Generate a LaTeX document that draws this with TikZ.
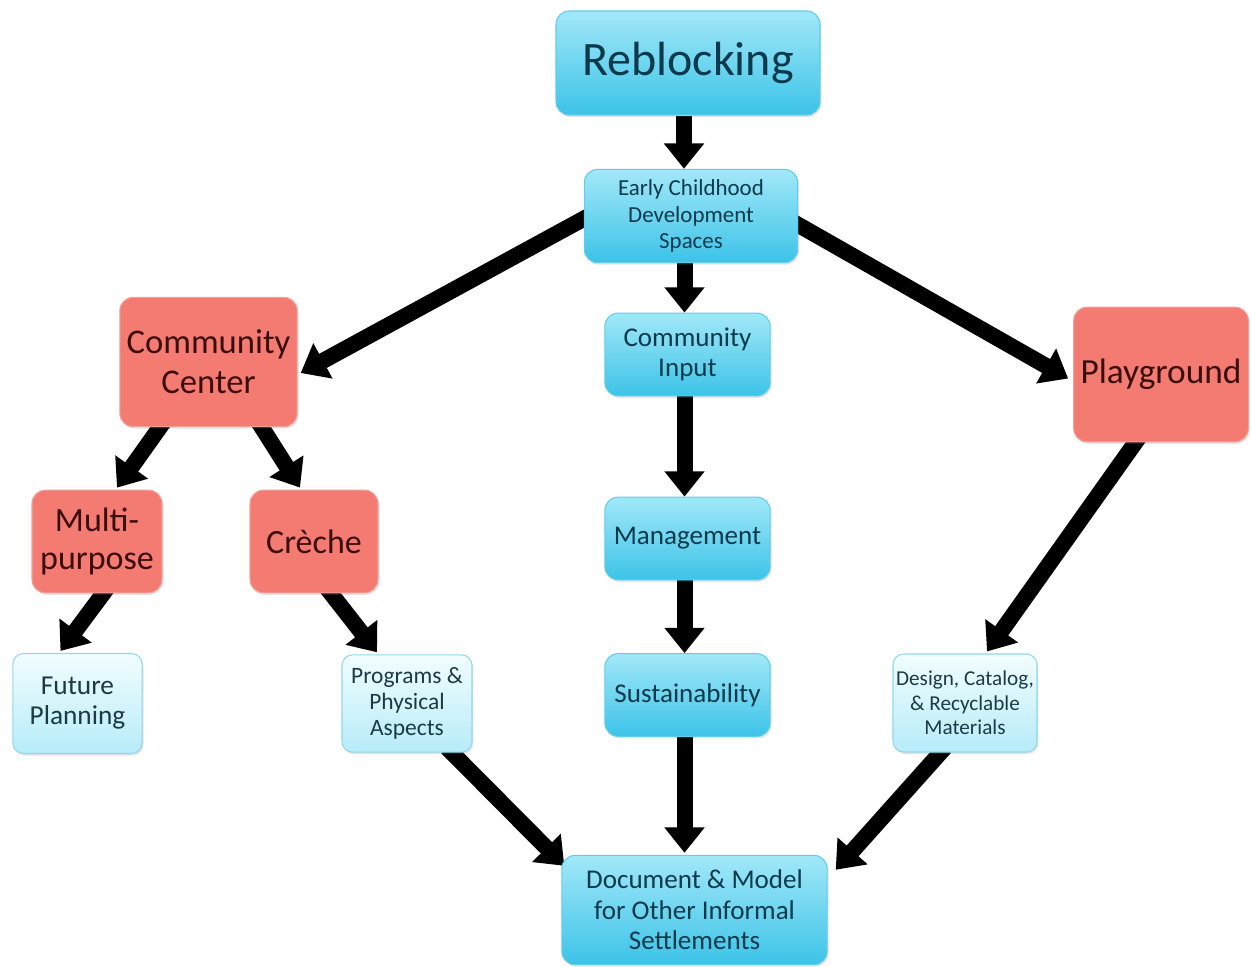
\documentclass[tikz,border=0pt]{standalone}
\usepackage{fontspec}
\setmainfont{Carlito}
\usetikzlibrary{arrows.meta,calc,backgrounds,shadows}
\definecolor{bluetop}{HTML}{A2E8F8}
\definecolor{bluebot}{HTML}{3CC3E8}
\definecolor{blueline}{HTML}{62CDE8}
\definecolor{bluetext}{HTML}{0B3A4C}
\definecolor{lighttop}{HTML}{F2FDFF}
\definecolor{lightbot}{HTML}{B6ECF9}
\definecolor{lightline}{HTML}{93D7EA}
\definecolor{lighttext}{HTML}{1C3A44}
\definecolor{redfill}{HTML}{F47B72}
\definecolor{redline}{HTML}{F3A09A}
\definecolor{redtext}{HTML}{3A0E0E}
\tikzset{
  box/.style={rectangle, rounded corners=10pt, align=center, inner sep=0pt,
    drop shadow={opacity=0.22, shadow xshift=1pt, shadow yshift=-1.5pt}},
  bluebox/.style={box, draw=blueline, line width=0.8pt, top color=bluetop, bottom color=bluebot, text=bluetext},
  lightbox/.style={box, rounded corners=8pt, draw=lightline, line width=0.8pt, top color=lighttop, bottom color=lightbot, text=lighttext},
  redbox/.style={box, draw=redline, line width=0.8pt, fill=redfill, text=redtext},
  bigarrow/.style={line width=12pt, -{Triangle[width=29pt,length=19pt]}}
}
\begin{document}
\begin{tikzpicture}[x=0.75pt,y=-0.75pt]
\useasboundingbox (0,0) rectangle (1251,966);
% blue main column
\node[bluebox, minimum width=198pt, minimum height=78pt, font=\fontsize{36}{42}\selectfont] (reb) at (688,63) {Reblocking};
\node[bluebox, minimum width=160pt, minimum height=70pt, font=\fontsize{17.2}{20}\selectfont] (ecd) at (691,216) {Early Childhood\\Development\\Spaces};
\node[bluebox, minimum width=124pt, minimum height=62pt, font=\fontsize{20.3}{23}\selectfont] (ci) at (687.5,354.5) {Community\\Input};
\node[bluebox, minimum width=124pt, minimum height=62pt, font=\fontsize{20.3}{23}\selectfont] (mg) at (687.5,538.5) {Management};
\node[bluebox, minimum width=124pt, minimum height=62pt, font=\fontsize{20.3}{23}\selectfont] (su) at (687.5,695) {Sustainability};
\node[bluebox, minimum width=199pt, minimum height=82pt, font=\fontsize{20.3}{23}\selectfont] (doc) at (694.5,910) {Document \& Model\\for Other Informal\\Settlements};
% red boxes
\node[redbox, minimum width=133pt, minimum height=97pt, font=\fontsize{26}{30}\selectfont] (cc) at (208.5,362) {Community\\Center};
\node[redbox, minimum width=131pt, minimum height=101pt, font=\fontsize{26.5}{30}\selectfont] (pg) at (1161,374.5) {Playground};
\node[redbox, minimum width=97.5pt, minimum height=77pt, font=\fontsize{25.5}{29}\selectfont] (mp) at (97,541.5) {Multi-\\purpose};
\node[redbox, minimum width=96pt, minimum height=77pt, font=\fontsize{25.5}{29}\selectfont] (cr) at (314,541.5) {Crèche};
% light boxes
\node[lightbox, minimum width=97pt, minimum height=75pt, font=\fontsize{20.5}{22.5}\selectfont] (fp) at (77.5,703.5) {Future\\Planning};
\node[lightbox, minimum width=97.5pt, minimum height=73pt, font=\fontsize{17.6}{19.5}\selectfont] (pr) at (407,703.5) {Programs \&\\Physical\\Aspects};
\node[lightbox, minimum width=108pt, minimum height=73.5pt, font=\fontsize{15.9}{18.5}\selectfont] (dc) at (965,703) {Design, Catalog,\\\& Recyclable\\Materials};
% connectors
\begin{scope}[on background layer]
\draw[bigarrow] ($(reb.south)+(-4,0)$) -- ($(reb.south |- ecd.north)+(-4,0)$);
\draw[bigarrow] ($(ci.north |- ecd.south)+(-3,0)$) -- ($(ci.north)+(-3,0)$);
\draw[bigarrow] ($(ci.south)+(-3,0)$) -- ($(ci.south |- mg.north)+(-3,0)$);
\draw[bigarrow] ($(mg.south)+(-3,0)$) -- ($(mg.south |- su.north)+(-3,0)$);
\draw[bigarrow] ($(su.south)+(-3,0)$) -- ($(su.south |- doc.north)+(-3,-2)$);
\draw[bigarrow] ($(ecd.west)+(5,0)$) -- ($(cc.east)+(3,11)$);
\draw[bigarrow] ($(ecd.east)+(-5,6)$) -- ($(pg.west)+(-5,4)$);
\draw[bigarrow] ($(cc.south)+(-45,-5)$) -- ($(mp.north)+(20,-2)$);
\draw[bigarrow] ($(cc.south)+(50,-5)$) -- ($(cr.north)+(-14,-2)$);
\draw[bigarrow] ($(mp.south)+(10,-5)$) -- ($(fp.north)+(-17,-2)$);
\draw[bigarrow] ($(cr.south)+(13,-5)$) -- ($(pr.north)+(-30,-2)$);
\draw[bigarrow] ($(pr.south)+(40,-5)$) -- ($(doc.north west)+(3,11)$);
\draw[bigarrow] ($(pg.south)+(-22,-5)$) -- ($(dc.north)+(22,-2)$);
\draw[bigarrow] ($(dc.south)+(-20,-5)$) -- ($(doc.north east)+(8,15)$);
\end{scope}
\end{tikzpicture}
\end{document}
